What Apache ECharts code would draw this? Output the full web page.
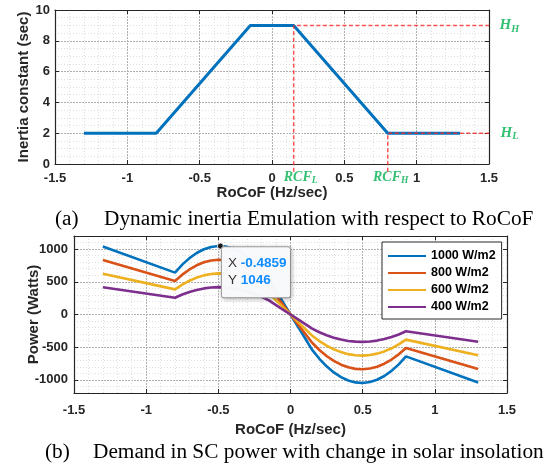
<!DOCTYPE html>
<html>
<head>
<meta charset="utf-8">
<script src="https://cdn.jsdelivr.net/npm/echarts@6/dist/echarts.min.js"></script>
<style>
html,body{margin:0;padding:0;background:#fff;}
#chart{width:552px;height:465px;}
</style>
</head>
<body>
<div id="chart"></div>
<script>
// (a) inertia constant vs RoCoF
var inertiaX = [-1.3, -0.8, -0.15, 0.15, 0.8, 1.3];
var inertiaH = [2, 2, 9, 9, 2, 2];
var rcfL = 0.15, rcfH = 0.8, hHigh = 9, hLow = 2, guideBottom = -0.5, guideEnd = 1.5;

// (b) SC power vs RoCoF for each insolation
var rocof = [-1.3, -0.8, -0.75, -0.7, -0.65, -0.6, -0.55, -0.5, -0.45, -0.4, -0.35, -0.3, -0.25, -0.2, -0.15, -0.1, -0.05, 0,
  0.05, 0.1, 0.15, 0.2, 0.25, 0.3, 0.35, 0.4, 0.45, 0.5, 0.55, 0.6, 0.65, 0.7, 0.75, 0.8, 1.3];
var p1000 = [1040, 640, 762, 862, 940, 997, 1032, 1046, 1038, 1009, 958, 886, 792, 677, 540, 360, 180, 0,
  -180, -360, -540, -677, -792, -886, -958, -1009, -1038, -1046, -1032, -997, -940, -862, -762, -640, -1040];
var p800 = [832, 512, 609, 689, 752, 798, 826, 837, 831, 807, 767, 709, 634, 542, 432, 288, 144, 0,
  -144, -288, -432, -542, -634, -709, -767, -807, -831, -837, -826, -798, -752, -689, -609, -512, -832];
var p600 = [624, 384, 457, 517, 564, 598, 619, 628, 623, 606, 575, 532, 475, 406, 324, 216, 108, 0,
  -108, -216, -324, -406, -475, -532, -575, -606, -623, -628, -619, -598, -564, -517, -457, -384, -624];
var p400 = [416, 256, 305, 345, 376, 399, 413, 418, 415, 404, 383, 354, 317, 271, 216, 144, 72, 0,
  -72, -144, -216, -271, -317, -354, -383, -404, -415, -418, -413, -399, -376, -345, -305, -256, -416];
var names = ['1000 W/m2', '800 W/m2', '600 W/m2', '400 W/m2'];
var colors = ['#0072BD', '#D95319', '#EDB120', '#7E2F8E'];
var powerTicks = [-1000, -500, 0, 500, 1000];
var tipX = -0.4859, tipY = 1046;

var AX = '#262626';
var MAJ = {color: '#b0b0b0', width: 1, type: [2, 1]};
var MIN = {color: '#dedede', width: 1, type: [1, 2]};
var tickFont = {color: AX, fontFamily: 'Liberation Sans', fontWeight: 'bold', fontSize: 13};
var nameFont = {color: AX, fontFamily: 'Liberation Sans', fontWeight: 'bold', fontSize: 15};
var green = {color: '#00B050', fontFamily: 'Liberation Serif', fontStyle: 'italic', fontWeight: 'bold'};
var cap = {fontFamily: 'Liberation Serif', fontSize: 21.3, fontWeight: 'normal', color: '#000'};

function plain(v) { return String(v); }
function line(w) { return {show: true, onZero: false, lineStyle: {color: AX, width: w || 1.2}}; }
function ticks(custom) {
  var t = {show: true, inside: true, length: 4, lineStyle: {color: AX, width: 1}};
  if (custom) t.customValues = custom;
  return t;
}

function xMain(grid, margin, gap) {
  return {
    type: 'value', gridIndex: grid, min: -1.5, max: 1.5, interval: 0.5, position: 'bottom',
    name: 'RoCoF (Hz/sec)', nameLocation: 'middle', nameGap: gap, nameTextStyle: nameFont, nameMoveOverlap: false,
    axisLine: line(), axisTick: ticks(), axisLabel: Object.assign({margin: margin, formatter: plain}, tickFont),
    splitLine: {show: true, lineStyle: MAJ},
    minorTick: {show: false, splitNumber: 5},
    minorSplitLine: {show: true, lineStyle: MIN}
  };
}
function xBox(grid) {
  return {
    type: 'value', gridIndex: grid, min: -1.5, max: 1.5, interval: 0.5, position: 'top',
    axisLine: line(), axisTick: ticks(), axisLabel: {show: false}, splitLine: {show: false}
  };
}

var powerSeries = [p1000, p800, p600, p400].map(function (vals, k) {
  var s = {
    name: names[k], type: 'line', xAxisIndex: 2, yAxisIndex: 3,
    data: rocof.map(function (x, i) { return [x, vals[i]]; }),
    symbol: 'none', color: colors[k],
    lineStyle: {color: colors[k], width: 2.6}
  };
  if (k === 0) {
    s.markPoint = {
      symbol: 'circle', symbolSize: 6, silent: true,
      itemStyle: {color: '#1a1a1a', borderColor: '#fff', borderWidth: 0.8},
      label: {
        show: true, position: [5, 4.6],
        formatter: '{k|X} {v|' + tipX + '}\n{k|Y} {v|' + tipY + '}',
        fontFamily: 'Liberation Sans', fontSize: 13.5, color: '#333',
        backgroundColor: 'rgba(250,251,253,0.97)', borderColor: '#a8a8a8', borderWidth: 1, borderRadius: 2,
        padding: [8, 6, 8, 6], width: 56,
        shadowBlur: 4, shadowColor: 'rgba(0,0,0,0.25)', shadowOffsetX: 1, shadowOffsetY: 1,
        rich: {
          k: {fontFamily: 'Liberation Sans', fontSize: 13.5, color: '#333', lineHeight: 17},
          v: {fontFamily: 'Liberation Sans', fontSize: 13.5, fontWeight: 'bold', color: '#0f8cff', lineHeight: 17}
        }
      },
      data: [{coord: [tipX, tipY]}]
    };
  }
  return s;
});

var guide = {color: 'rgba(255,40,40,0.8)', width: 1.5, type: [4, 2.5]};
function richLabel(main, sub, size) {
  return {
    formatter: '{i|' + main + '}{s|' + sub + '}',
    rich: {
      i: Object.assign({fontSize: size, lineHeight: 17}, green),
      s: Object.assign({fontSize: size * 0.68, lineHeight: 9, verticalAlign: 'bottom'}, green)
    }
  };
}

var chart = echarts.init(document.getElementById('chart'), null, {renderer: 'canvas'});
chart.setOption({
  animation: false,
  backgroundColor: '#fff',
  textStyle: {fontFamily: 'Liberation Sans'},
  title: [
    {text: '(a)', left: 55, top: 209, padding: 0, textStyle: cap},
    {text: 'Dynamic inertia Emulation with respect to RoCoF', left: 104, top: 209, padding: 0, textStyle: cap},
    {text: '(b)', left: 45, top: 442, padding: 0, textStyle: cap},
    {text: 'Demand in SC power with change in solar insolation', left: 93, top: 442, padding: 0, textStyle: cap}
  ],
  grid: [
    {left: 55, top: 10, width: 434, height: 154, containLabel: false, outerBoundsMode: 'none'},
    {left: 74, top: 236, width: 433, height: 157, containLabel: false, outerBoundsMode: 'none'}
  ],
  legend: {
    data: names, orient: 'vertical', left: 382, top: 242,
    itemWidth: 38, itemHeight: 14, itemGap: 3, padding: [7, 6, 5, 5],
    borderColor: AX, borderWidth: 1, backgroundColor: '#fff', selectedMode: false,
    itemStyle: {opacity: 0},
    textStyle: {color: '#000', fontFamily: 'Liberation Sans', fontWeight: 'bold', fontSize: 12.5, lineHeight: 14}
  },
  xAxis: [xMain(0, 8, 21.5), xBox(0), xMain(1, 10.5, 29.5), xBox(1)],
  yAxis: [
    {
      type: 'value', gridIndex: 0, min: 0, max: 10, interval: 2, position: 'left',
      name: 'Inertia constant (sec)', nameLocation: 'middle', nameGap: 24, nameTextStyle: nameFont, nameMoveOverlap: false,
      axisLine: line(), axisTick: ticks(), axisLabel: Object.assign({margin: 5, formatter: plain}, tickFont),
      splitLine: {show: true, lineStyle: MAJ},
      minorTick: {show: false, splitNumber: 4},
      minorSplitLine: {show: true, lineStyle: MIN}
    },
    {
      type: 'value', gridIndex: 0, min: 0, max: 10, interval: 2, position: 'right',
      axisLine: line(), axisTick: ticks(), axisLabel: {show: false}, splitLine: {show: false}
    },
    {
      type: 'value', gridIndex: 1, min: -1200, max: 1200, interval: 100, position: 'left',
      axisLine: {show: false}, axisTick: {show: false}, axisLabel: {show: false},
      splitLine: {show: true, lineStyle: MIN}
    },
    {
      type: 'value', gridIndex: 1, min: -1200, max: 1200, interval: 100, position: 'left',
      name: 'Power (Watts)', nameLocation: 'middle', nameGap: 33, nameTextStyle: nameFont, nameMoveOverlap: false,
      axisLine: line(), axisTick: ticks(powerTicks),
      axisLabel: Object.assign({margin: 6, customValues: powerTicks, formatter: plain}, tickFont),
      splitLine: {show: true, lineStyle: MAJ}
    },
    {
      type: 'value', gridIndex: 1, min: -1200, max: 1200, interval: 100, position: 'right',
      axisLine: line(), axisTick: ticks(powerTicks), axisLabel: {show: false}, splitLine: {show: false}
    }
  ],
  series: [
    {
      type: 'line', xAxisIndex: 0, yAxisIndex: 0, symbol: 'none', color: '#0072BD',
      data: inertiaX.map(function (x, i) { return [x, inertiaH[i]]; }),
      lineStyle: {color: '#0072BD', width: 3}
    },
    {
      type: 'line', xAxisIndex: 0, yAxisIndex: 0, symbol: 'none', clip: false, silent: true,
      data: [[rcfL, guideBottom], [rcfL, hHigh], [guideEnd, hHigh]], lineStyle: guide
    },
    {
      type: 'line', xAxisIndex: 0, yAxisIndex: 0, symbol: 'none', clip: false, silent: true,
      data: [[rcfH, guideBottom], [rcfH, hLow], [guideEnd, hLow]], lineStyle: guide
    },
    {
      type: 'scatter', xAxisIndex: 0, yAxisIndex: 0, symbolSize: 1, clip: false, silent: true,
      itemStyle: {color: 'rgba(0,0,0,0)'},
      data: [
        {value: [guideEnd, hHigh], label: Object.assign({show: true, position: 'right', distance: 10}, richLabel('H', 'H', 15))},
        {value: [guideEnd, hLow], label: Object.assign({show: true, position: 'right', distance: 11}, richLabel('H', 'L', 15))},
        {value: [rcfL, 0], label: Object.assign({show: true, position: 'bottom', distance: 4, offset: [7, 0]}, richLabel('RCF', 'L', 14))},
        {value: [rcfH, 0], label: Object.assign({show: true, position: 'bottom', distance: 4, offset: [3, 0]}, richLabel('RCF', 'H', 14))}
      ]
    }
  ].concat(powerSeries)
});
</script>
</body>
</html>
